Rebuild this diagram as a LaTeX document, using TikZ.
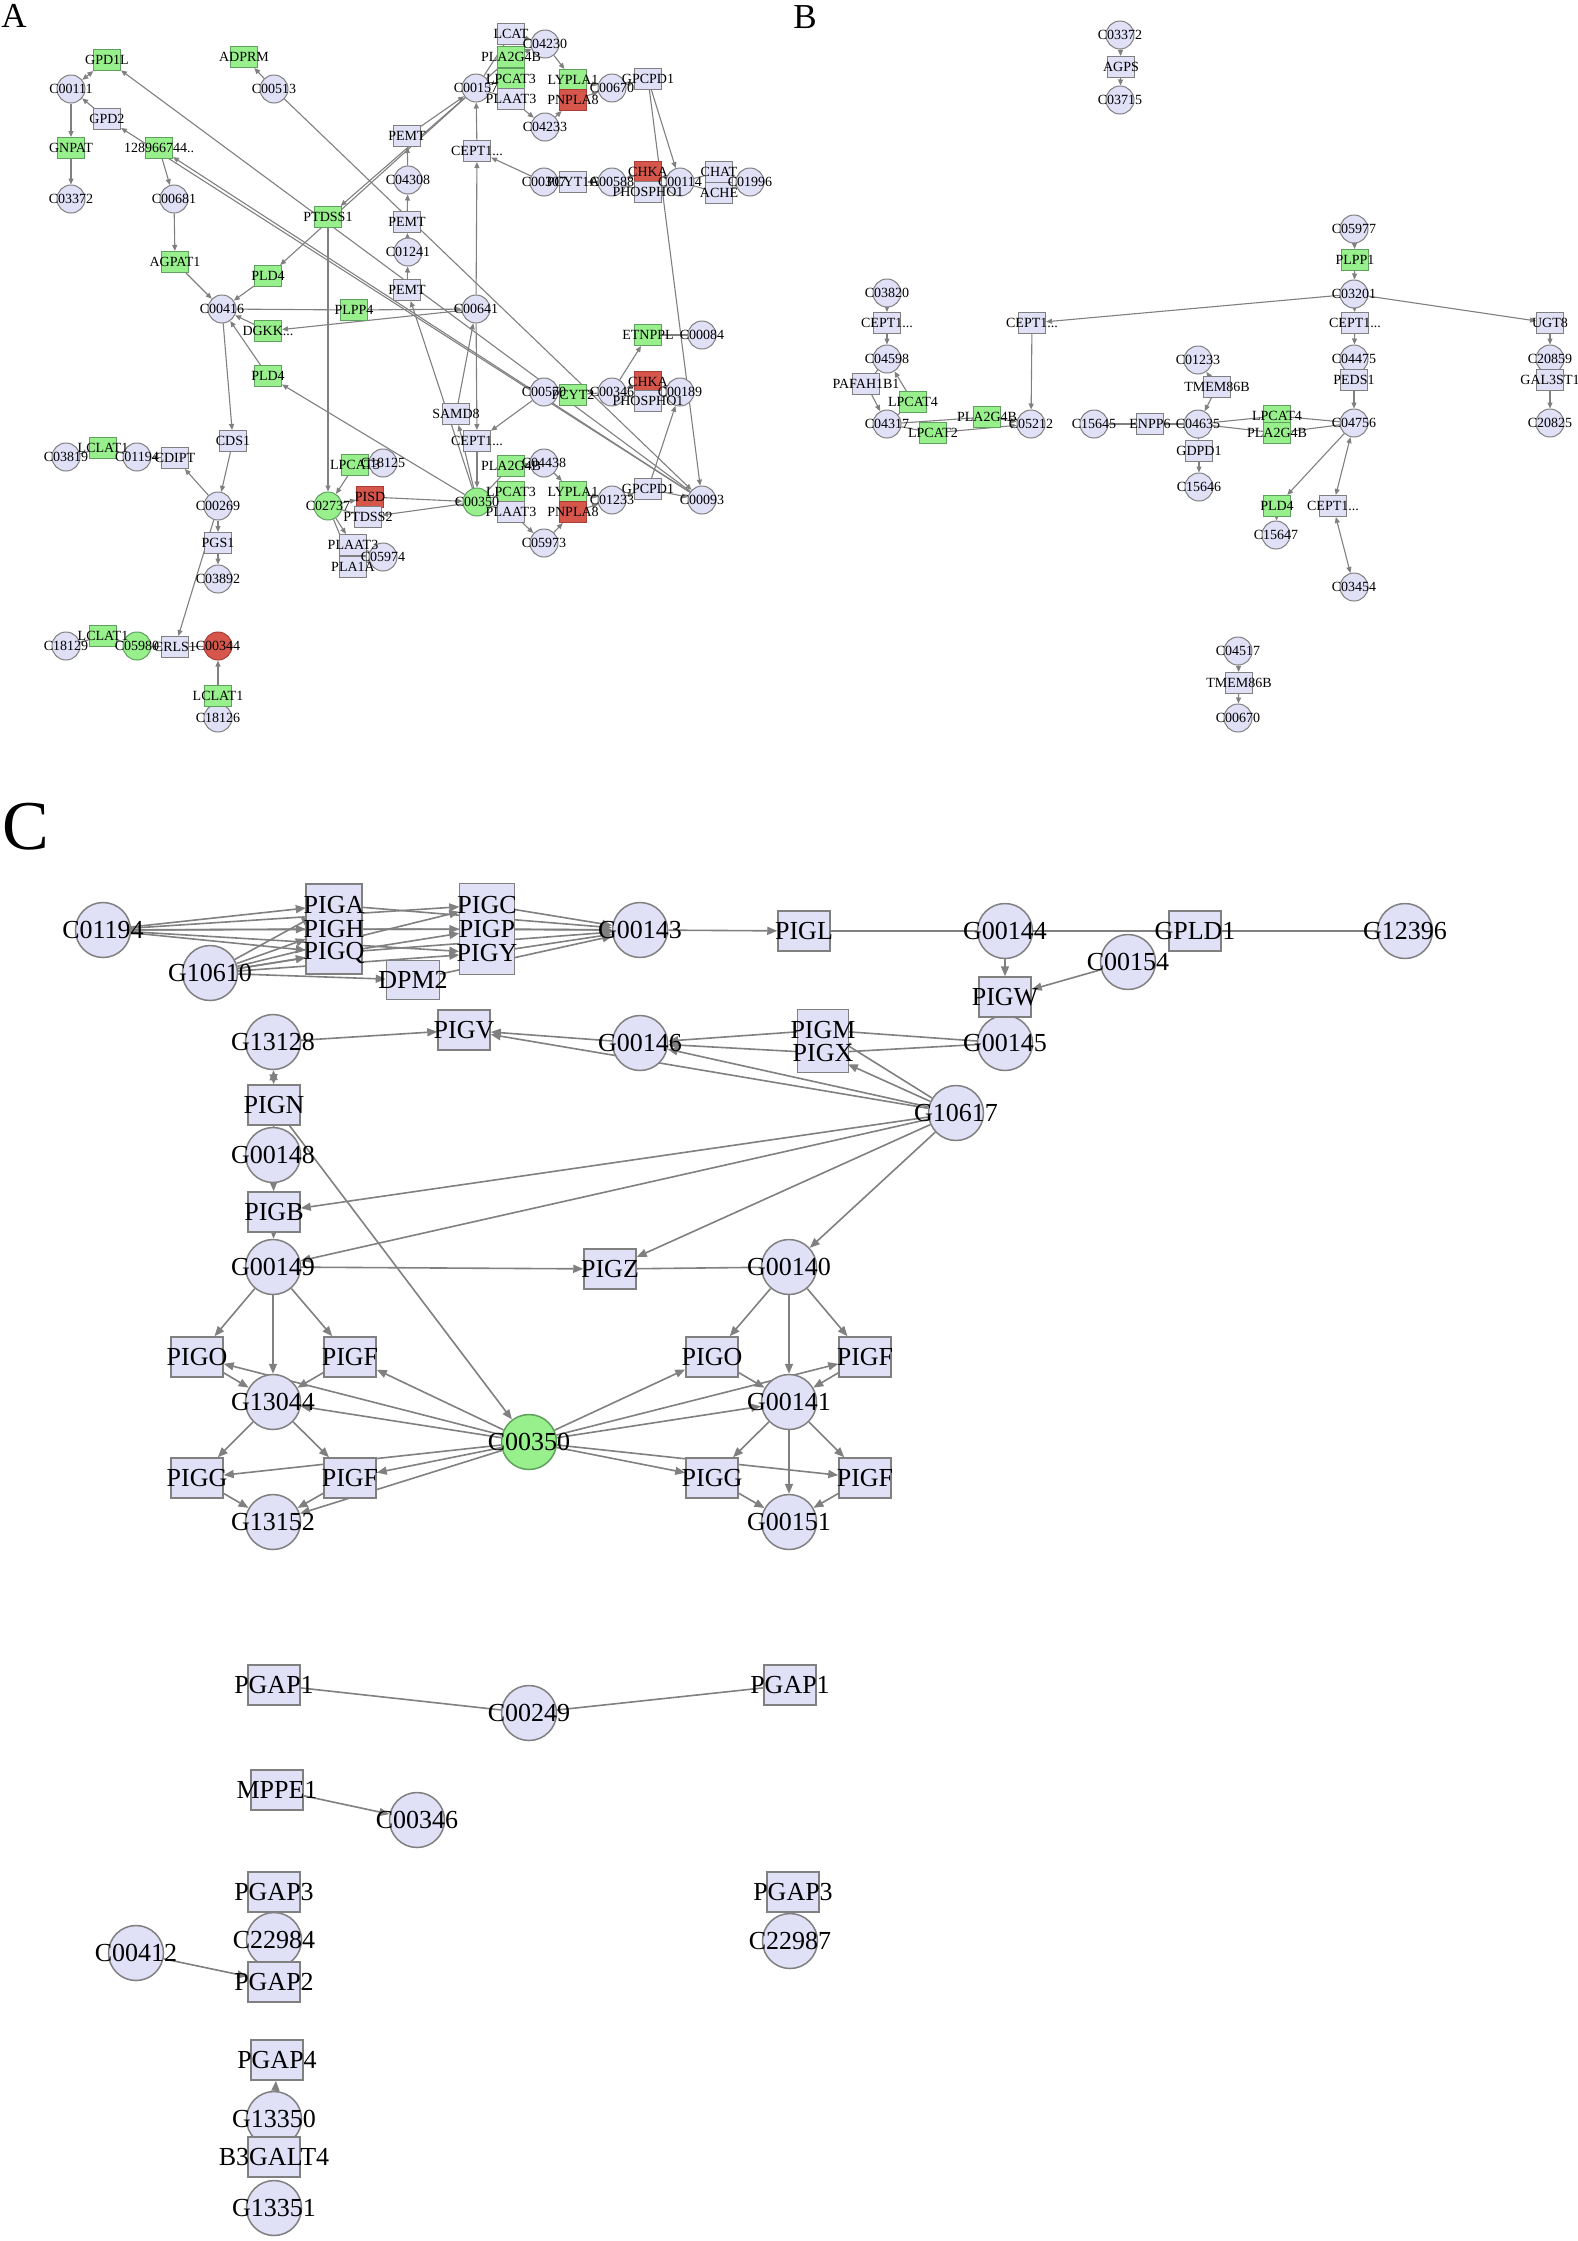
\documentclass[tikz,border=0pt]{standalone}
\usepackage{fontspec}
\setmainfont{Liberation Serif}
\usetikzlibrary{arrows.meta}
\pgfdeclarelayer{back}\pgfdeclarelayer{bg}\pgfdeclarelayer{fg}\pgfsetlayers{back,bg,main,fg}
\definecolor{lav}{RGB}{224,224,247}
\definecolor{bord}{RGB}{128,128,128}
\definecolor{grn}{RGB}{152,240,140}
\definecolor{grnb}{RGB}{95,160,95}
\definecolor{rdf}{RGB}{214,86,76}
\definecolor{rdb}{RGB}{170,60,55}
\definecolor{edg}{RGB}{128,128,128}
\tikzset{
 cA/.style={circle,draw=bord,fill=lav,minimum size=28pt,inner sep=0pt,line width=1pt},
 rA/.style={rectangle,draw=bord,fill=lav,minimum width=27pt,minimum height=21pt,inner sep=0pt,line width=1pt},
 gr/.style={fill=grn,draw=grnb},
 rd/.style={fill=rdf,draw=rdb},
 cC/.style={circle,draw=bord,fill=lav,minimum size=55pt,inner sep=0pt,line width=1.5pt},
 rC/.style={rectangle,draw=bord,fill=lav,minimum width=52pt,minimum height=40pt,inner sep=0pt,line width=1.5pt},
 hid/.style={rectangle,minimum width=56pt,minimum height=24pt,inner sep=0pt},
 lA/.style={font=\fontsize{14}{14}\selectfont,inner sep=0pt,text=black},
 lC/.style={font=\fontsize{26}{26}\selectfont,inner sep=0pt,text=black},
 eA/.style={draw=edg,line width=1.1pt,-{Triangle[length=6pt,width=5pt]}},
 bA/.style={draw=edg,line width=1.1pt,{Triangle[length=6pt,width=5pt]}-{Triangle[length=6pt,width=5pt]}},
 pA/.style={draw=edg,line width=1.1pt},
 eC/.style={draw=edg,line width=1.6pt,-{Triangle[length=10pt,width=8pt]}},
 bC/.style={draw=edg,line width=1.6pt,{Triangle[length=10pt,width=8pt]}-{Triangle[length=10pt,width=8pt]}},
 pC/.style={draw=edg,line width=1.6pt},
 panel/.style={inner sep=0pt,text=black}
}
\newcommand\na[4]{\node[#1] (#2) at (#3) {};\begin{pgfonlayer}{fg}\node[lA] at (#2.center) {#4};\end{pgfonlayer}}
\newcommand\nc[4]{\node[#1] (#2) at (#3) {};\begin{pgfonlayer}{fg}\node[lC] at (#2.center) {#4};\end{pgfonlayer}}
\begin{document}
\begin{tikzpicture}[x=1pt,y=-1pt]
\useasboundingbox (0,0) rectangle (1578,2241);
\begin{pgfonlayer}{back}\fill[white] (0,0) rectangle (1578,2241);\end{pgfonlayer}
\node[panel,font=\fontsize{35}{35}\selectfont] (pA) at (14,16) {A};
\node[panel,font=\fontsize{35}{35}\selectfont] (pB) at (805,17) {B};
\node[panel,font=\fontsize{70}{70}\selectfont] (pCc) at (26,827) {C};
% ---------------- Panel A ----------------
\na{cA}{aC00111}{71,89}{C00111}
\na{rA,gr}{aGPD1L}{107,60}{GPD1L}
\na{rA}{aGPD2}{107,119}{GPD2}
\na{rA,gr}{aGNPAT}{71,148}{GNPAT}
\na{cA}{aC03372}{71,199}{C03372}
\na{rA,gr}{aX1289}{159,148}{128966744..}
\na{rA,gr}{aADPRM}{244,57}{ADPRM}
\na{cA}{aC00513}{274,89}{C00513}
\na{cA}{aC00681}{174,199}{C00681}
\na{rA,gr}{aAGPAT1}{175,262}{AGPAT1}
\na{rA,gr}{aPTDSS1}{328,217}{PTDSS1}
\na{rA,gr}{aPLD4a}{268,276}{PLD4}
\na{cA}{aC00416}{222,309}{C00416}
\na{rA,gr}{aPLPP4}{354,310}{PLPP4}
\na{rA,gr}{aDGKK}{268,331}{DGKK...}
\na{rA,gr}{aPLD4b}{268,376}{PLD4}
\na{cA}{aC00157}{476,88}{C00157}
\na{cA}{aC04230}{545,44}{C04230}
\na{rA}{aLCAT}{511,34}{LCAT}
\na{rA,gr}{aPLA2G4Ba}{511,57}{PLA2G4B}
\na{rA,gr}{aLPCAT3a}{511,79}{LPCAT3}
\na{rA}{aPLAAT3a}{511,99}{PLAAT3}
\na{cA}{aC00670}{612,88}{C00670}
\na{rA,gr}{aLYPLA1a}{573,80}{LYPLA1}
\na{rA,rd}{aPNPLA8a}{573,100}{PNPLA8}
\na{rA}{aGPCPD1a}{648,79}{GPCPD1}
\na{cA}{aC04233}{545,127}{C04233}
\na{rA}{aPEMT1}{407,136}{PEMT}
\na{rA}{aCEPT1a}{477,151}{CEPT1...}
\na{cA}{aC04308}{408,180}{C04308}
\na{cA}{aC00307}{544,182}{C00307}
\na{rA}{aPCYT1A}{573,182}{PCYT1A}
\na{cA}{aC00588}{612,182}{C00588}
\na{cA}{aC00114}{680,182}{C00114}
\na{rA,rd}{aCHKAa}{648,172}{CHKA}
\na{rA}{aPHOSPHO1a}{648,192}{PHOSPHO1}
\na{cA}{aC01996}{750,182}{C01996}
\na{rA}{aCHAT}{719,172}{CHAT}
\na{rA}{aACHE}{719,193}{ACHE}
\na{rA}{aPEMT2}{407,222}{PEMT}
\na{cA}{aC01241}{408,252}{C01241}
\na{rA}{aPEMT3}{407,290}{PEMT}
\na{cA}{aC00641}{476,309}{C00641}
\na{rA,gr}{aETNPPL}{648,335}{ETNPPL}
\na{cA}{aC00084}{702,335}{C00084}
\na{cA}{aC00570}{544,392}{C00570}
\na{rA,gr}{aPCYT2}{573,395}{PCYT2}
\na{cA}{aC00346}{612,392}{C00346}
\na{cA}{aC00189}{680,392}{C00189}
\na{rA,rd}{aCHKAb}{648,382}{CHKA}
\na{rA}{aPHOSPHO1b}{648,401}{PHOSPHO1}
\na{rA}{aSAMD8}{456,414}{SAMD8}
\na{rA}{aCEPT1b}{477,441}{CEPT1...}
\na{cA}{aC18125}{383,463}{C18125}
\na{rA,gr}{aLPCAT4}{355,465}{LPCAT3}
\na{cA}{aC04438}{544,463}{C04438}
\na{rA,gr}{aPLA2G4Bb}{511,466}{PLA2G4B}
\na{cA,gr}{aC00350}{477,502}{C00350}
\na{rA,gr}{aLPCAT3b}{511,492}{LPCAT3}
\na{rA}{aPLAAT3b}{511,512}{PLAAT3}
\na{cA}{aC01233}{612,500}{C01233}
\na{rA,gr}{aLYPLA1b}{573,492}{LYPLA1}
\na{rA,rd}{aPNPLA8b}{573,512}{PNPLA8}
\na{rA}{aGPCPD1b}{648,489}{GPCPD1}
\na{cA}{aC00093}{702,500}{C00093}
\na{cA}{aC05973}{544,543}{C05973}
\na{cA}{aC05974}{383,557}{C05974}
\na{rA}{aCDS1}{233,441}{CDS1}
\na{cA}{aC03819}{66,457}{C03819}
\na{rA,gr}{aLCLAT1a}{103,448}{LCLAT1}
\na{cA}{aC01194}{137,457}{C01194}
\na{rA}{aCDIPT}{175,458}{CDIPT}
\na{cA}{aC00269}{218,506}{C00269}
\na{rA}{aPGS1}{218,543}{PGS1}
\na{cA}{aC03892}{218,579}{C03892}
\na{cA}{aC18129}{66,646}{C18129}
\na{rA,gr}{aLCLAT1b}{103,636}{LCLAT1}
\na{cA,gr}{aC05980}{137,646}{C05980}
\na{rA}{aCRLS1}{175,647}{CRLS1}
\na{cA,rd}{aC00344}{218,646}{C00344}
\na{cA}{aC18126}{218,718}{C18126}
\na{rA,gr}{aLCLAT1c}{218,696}{LCLAT1}
\na{cA,gr}{aC02737}{328,506}{C02737}
\na{rA,rd}{aPISD}{370,497}{PISD}
\na{rA}{aPTDSS2}{368,517}{PTDSS2}
\na{rA}{aPLAAT3c}{353,545}{PLAAT3}
\na{rA}{aPLA1A}{353,567}{PLA1A}
% ---------------- Panel B ----------------
\na{cA}{bC03372}{1120,35}{C03372}
\na{rA}{bAGPS}{1121,67}{AGPS}
\na{cA}{bC03715}{1120,100}{C03715}
\na{cA}{bC05977}{1354,229}{C05977}
\na{rA,gr}{bPLPP1}{1355,260}{PLPP1}
\na{cA}{bC03201}{1354,294}{C03201}
\na{rA}{bCEPT1c}{1355,323}{CEPT1...}
\na{cA}{bC04475}{1354,359}{C04475}
\na{rA}{bPEDS1}{1354,380}{PEDS1}
\na{cA}{bC04756}{1354,423}{C04756}
\na{cA}{bC03820}{887,293}{C03820}
\na{rA}{bCEPT1a}{887,323}{CEPT1...}
\na{cA}{bC04598}{887,359}{C04598}
\na{rA}{bCEPT1b}{1032,323}{CEPT1...}
\na{rA}{bUGT8}{1550,323}{UGT8}
\na{cA}{bC20859}{1550,359}{C20859}
\na{rA}{bGAL3ST1}{1550,380}{GAL3ST1}
\na{cA}{bC20825}{1550,423}{C20825}
\na{cA}{bC01233}{1198,360}{C01233}
\na{rA}{bTMEM86Ba}{1217,387}{TMEM86B}
\na{cA}{bC04635}{1198,424}{C04635}
\na{rA}{bGDPD1}{1199,451}{GDPD1}
\na{cA}{bC15646}{1199,487}{C15646}
\na{rA}{bPAFAH1B1}{866,384}{PAFAH1B1}
\na{cA}{bC04317}{887,424}{C04317}
\na{rA,gr}{bLPCAT4a}{913,402}{LPCAT4}
\na{rA,gr}{bLPCAT2}{933,433}{LPCAT2}
\na{rA,gr}{bPLA2G4Ba}{987,417}{PLA2G4B}
\na{cA}{bC05212}{1031,424}{C05212}
\na{cA}{bC15645}{1094,424}{C15645}
\na{rA}{bENPP6}{1150,424}{ENPP6}
\na{rA,gr}{bLPCAT4b}{1277,416}{LPCAT4}
\na{rA,gr}{bPLA2G4Bb}{1277,433}{PLA2G4B}
\na{rA,gr}{bPLD4}{1277,506}{PLD4}
\na{cA}{bC15647}{1276,535}{C15647}
\na{rA}{bCEPT1d}{1333,506}{CEPT1...}
\na{cA}{bC03454}{1354,587}{C03454}
\na{cA}{bC04517}{1238,651}{C04517}
\na{rA}{bTMEM86Bb}{1239,683}{TMEM86B}
\na{cA}{bC00670}{1238,718}{C00670}
% ---------------- Panel C ----------------
\nc{cC}{cC01194}{103,930}{C01194}
\nc{cC}{cG10610}{210,973}{G10610}
\node[rC,minimum width=56pt,minimum height=90pt] (cBox1) at (334,929) {};
\nc{hid}{cPIGA}{334,905}{PIGA}
\nc{hid}{cPIGH}{334,929}{PIGH}
\nc{hid}{cPIGQ}{334,953}{PIGQ}
\nc{rC,minimum width=53pt,minimum height=39pt}{cDPM2}{413,980}{DPM2}
\node[rC,minimum width=55pt,minimum height=91pt] (cBox2) at (487,929) {};
\nc{hid,minimum width=55pt}{cPIGC}{487,905}{PIGC}
\nc{hid,minimum width=55pt}{cPIGP}{487,929}{PIGP}
\nc{hid,minimum width=55pt}{cPIGY}{487,953}{PIGY}
\nc{cC}{cG00143}{640,930}{G00143}
\nc{rC}{cPIGL}{804,931}{PIGL}
\nc{cC}{cG00144}{1005,931}{G00144}
\nc{cC}{cC00154}{1128,962}{C00154}
\nc{rC}{cGPLD1}{1195,931}{GPLD1}
\nc{cC}{cG12396}{1405,931}{G12396}
\nc{cC}{cG00145}{1005,1043}{G00145}
\nc{rC}{cPIGW}{1005,997}{PIGW}
\node[rC,minimum width=51pt,minimum height=63pt] (cBox3) at (823,1041) {};
\nc{hid,minimum width=51pt,minimum height=22pt}{cPIGM}{823,1030}{PIGM}
\nc{hid,minimum width=51pt,minimum height=22pt}{cPIGX}{823,1053}{PIGX}
\nc{cC}{cG13128}{273,1042}{G13128}
\nc{rC}{cPIGV}{464,1030}{PIGV}
\nc{cC}{cG00146}{640,1043}{G00146}
\nc{cC}{cG10617}{956,1113}{G10617}
\nc{cC}{cG00148}{273,1155}{G00148}
\nc{rC}{cPIGN}{274,1105}{PIGN}
\nc{cC}{cG00149}{273,1267}{G00149}
\nc{rC}{cPIGB}{274,1212}{PIGB}
\nc{rC}{cPIGZ}{610,1269}{PIGZ}
\nc{cC}{cG00140}{789,1267}{G00140}
\nc{cC}{cG13044}{273,1402}{G13044}
\nc{cC}{cG13152}{273,1522}{G13152}
\nc{rC}{cPIGOl}{197,1357}{PIGO}
\nc{rC}{cPIGFl}{350,1357}{PIGF}
\nc{rC}{cPIGGl}{197,1478}{PIGG}
\nc{rC}{cPIGF2l}{350,1478}{PIGF}
\nc{cC,gr}{cC00350}{529,1442}{C00350}
\nc{cC}{cG00141}{789,1402}{G00141}
\nc{cC}{cG00151}{789,1522}{G00151}
\nc{rC}{cPIGOr}{712,1357}{PIGO}
\nc{rC}{cPIGFr}{865,1357}{PIGF}
\nc{rC}{cPIGGr}{712,1478}{PIGG}
\nc{rC}{cPIGF2r}{865,1478}{PIGF}
\nc{rC}{cPGAP1a}{274,1685}{PGAP1}
\nc{cC}{cC00249}{529,1713}{C00249}
\nc{rC}{cPGAP1b}{790,1685}{PGAP1}
\nc{rC}{cMPPE1}{277,1790}{MPPE1}
\nc{cC}{cC00346}{417,1820}{C00346}
\nc{cC}{cC22984}{274,1940}{C22984}
\nc{rC}{cPGAP3a}{274,1892}{PGAP3}
\nc{rC}{cPGAP2}{274,1982}{PGAP2}
\nc{cC}{cC00412}{136,1953}{C00412}
\nc{cC}{cC22987}{790,1941}{C22987}
\nc{rC}{cPGAP3b}{793,1892}{PGAP3}
\nc{cC}{cG13350}{274,2119}{G13350}
\nc{rC}{cPGAP4}{277,2060}{PGAP4}
\nc{cC}{cG13351}{274,2208}{G13351}
\nc{rC}{cB3GALT4}{274,2157}{B3GALT4}
% ---------------- Edges ----------------
\begin{pgfonlayer}{bg}
\foreach \s/\t in {aGPD2/aC00111,aC00111/aGNPAT,aGNPAT/aC03372,aC00093/aGPD2,aC00093/aX1289,aX1289/aC00681,aC00681/aAGPAT1,aAGPAT1/aC00416,aC00513/aADPRM,aC00513/aC00093,aC00093/aGPD1L,aC00157/aPTDSS1,aC00157/aPLD4a,aPLD4a/aC00416,aPTDSS1/aC02737,aPLPP4/aC00641,aC00641/aDGKK,aDGKK/aC00416,aC00350/aPLD4b,aPLD4b/aC00416,aC00416/aCDS1,aCDS1/aC00269,aC00269/aCDIPT,aCDIPT/aC01194,aC00269/aPGS1,aPGS1/aC03892,aC00269/aCRLS1,aLCLAT1c/aC00344,aC00641/aCEPT1a,aCEPT1a/aC00157,aC00307/aCEPT1a,aC00350/aPEMT3,aPEMT3/aC01241,aC01241/aPEMT2,aPEMT2/aC04308,aC04308/aPEMT1,aPEMT1/aC00157,aC00641/aCEPT1b,aCEPT1b/aC00350,aC00570/aCEPT1b,aC00350/aSAMD8,aSAMD8/aC00641,aC00189/aCHKAb,aCHKAb/aC00346,aC00346/aETNPPL,aC00670/aGPCPD1a,aGPCPD1a/aC00114,aGPCPD1a/aC00093,aC00114/aCHKAa,aCHKAa/aC00588,aC00588/aPCYT1A,aPCYT1A/aC00307,aLCAT/aC04230,aPLA2G4Ba/aC04230,aPLAAT3a/aC04233,aC04230/aLYPLA1a,aLYPLA1a/aC00670,aC04233/aPNPLA8a,aPNPLA8a/aC00670,aPLA2G4Bb/aC04438,aPLAAT3b/aC05973,aC04438/aLYPLA1b,aLYPLA1b/aC01233,aC05973/aPNPLA8b,aPNPLA8b/aC01233,aC01233/aGPCPD1b,aGPCPD1b/aC00093,aGPCPD1b/aC00189,aC02737/aPISD,aPISD/aC00350,aC00350/aPTDSS2,aLPCAT4/aC02737,aC02737/aPLAAT3c,aC02737/aPLA1A,aPCYT2/aC00570}
  {\draw[eA] (\s) -- (\t);}
\draw[bA] (aGPD1L) -- (aC00111);
\foreach \s/\t in {aC00416/aPLPP4,aC01194/aLCLAT1a,aLCLAT1a/aC03819,aCRLS1/aC05980,aC05980/aLCLAT1b,aLCLAT1b/aC18129,aCRLS1/aC00344,aC18126/aLCLAT1c,aC00346/aPCYT2,aC00189/aPHOSPHO1b,aPHOSPHO1b/aC00346,aETNPPL/aC00084,aC00114/aPHOSPHO1a,aPHOSPHO1a/aC00588,aC00114/aCHAT,aCHAT/aC01996,aC00114/aACHE,aACHE/aC01996,aC00157/aLCAT,aC00157/aPLA2G4Ba,aC00157/aLPCAT3a,aC00157/aPLAAT3a,aC00350/aPLA2G4Bb,aC00350/aLPCAT3b,aC00350/aPLAAT3b,aPTDSS2/aC02737,aC18125/aLPCAT4,aPLAAT3c/aC05974,aPLA1A/aC05974}
  {\draw[pA] (\s) -- (\t);}
% B
\foreach \s/\t in {bC03372/bAGPS,bAGPS/bC03715,bC05977/bPLPP1,bPLPP1/bC03201,bC03201/bCEPT1b,bC03201/bCEPT1c,bC03201/bUGT8,bCEPT1c/bC04475,bPEDS1/bC04756,bUGT8/bC20859,bGAL3ST1/bC20825,bC03820/bCEPT1a,bCEPT1a/bC04598,bPAFAH1B1/bC04317,bLPCAT4a/bC04598,bPLA2G4Ba/bC05212,bLPCAT2/bC05212,bCEPT1b/bC05212,bTMEM86Ba/bC01233,bTMEM86Ba/bC04635,bC04635/bGDPD1,bGDPD1/bC15646,bC04756/bPLD4,bPLD4/bC15647,bC04517/bTMEM86Bb,bTMEM86Bb/bC00670}
  {\draw[eA] (\s) -- (\t);}
\foreach \s/\t in {bC04475/bPEDS1,bC20859/bGAL3ST1,bC04598/bPAFAH1B1,bC04317/bLPCAT4a,bC04317/bPLA2G4Ba,bC04317/bLPCAT2,bC15645/bENPP6,bENPP6/bC04635,bC04635/bLPCAT4b,bLPCAT4b/bC04756,bC04635/bPLA2G4Bb,bPLA2G4Bb/bC04756}
  {\draw[pA] (\s) -- (\t);}
\draw[bA] (bC04756) -- (bCEPT1d);
\draw[bA] (bCEPT1d) -- (bC03454);
% C
\foreach \s in {cC01194,cG10610}
  \foreach \t in {cPIGA,cPIGH,cPIGQ,cPIGC,cPIGP,cPIGY}
    {\draw[eC] (\s) -- (\t);}
\draw[eC] (cG10610) -- (cDPM2);
\foreach \s in {cPIGA,cPIGH,cPIGQ,cPIGC,cPIGP,cPIGY,cDPM2}
  {\draw[eC] (\s) -- (cG00143);}
\foreach \s/\t in {cG00143/cPIGL,cG00144/cPIGW,cC00154/cPIGW,cPIGM/cG00146,cPIGX/cG00146,cG10617/cPIGM,cG10617/cPIGX,cG10617/cG00146,cG10617/cPIGV,cG00146/cPIGV,cG13128/cPIGV,cG00148/cPIGB,cPIGB/cG00149,cG10617/cPIGB,cG10617/cG00149,cG10617/cPIGZ,cG10617/cG00140,cPIGN/cC00350,cG00149/cPIGZ,cG00149/cPIGOl,cG00149/cG13044,cG00149/cPIGFl,cPIGOl/cG13044,cPIGFl/cG13044,cG13044/cPIGGl,cG13044/cPIGF2l,cPIGGl/cG13152,cPIGF2l/cG13152,cC00350/cPIGFl,cC00350/cG13044,cC00350/cPIGOl,cC00350/cPIGGl,cC00350/cPIGF2l,cC00350/cG13152,cG00140/cPIGOr,cG00140/cG00141,cG00140/cPIGFr,cPIGOr/cG00141,cPIGFr/cG00141,cG00141/cPIGGr,cG00141/cG00151,cG00141/cPIGF2r,cPIGGr/cG00151,cPIGF2r/cG00151,cC00350/cPIGOr,cC00350/cG00141,cC00350/cPIGFr,cC00350/cPIGGr,cC00350/cPIGF2r,cMPPE1/cC00346,cC00412/cPGAP2,cG13350/cPGAP4}
  {\draw[eC] (\s) -- (\t);}
\draw[bC] (cG13128) -- (cPIGN);
\foreach \s/\t in {cPIGL/cG00144,cG00144/cGPLD1,cGPLD1/cG12396,cPIGW/cG00145,cG00145/cPIGM,cG00145/cPIGX,cPIGN/cG00148,cPIGZ/cG00140,cPGAP1a/cC00249,cC00249/cPGAP1b}
  {\draw[pC] (\s) -- (\t);}
\end{pgfonlayer}
\end{tikzpicture}
\end{document}
